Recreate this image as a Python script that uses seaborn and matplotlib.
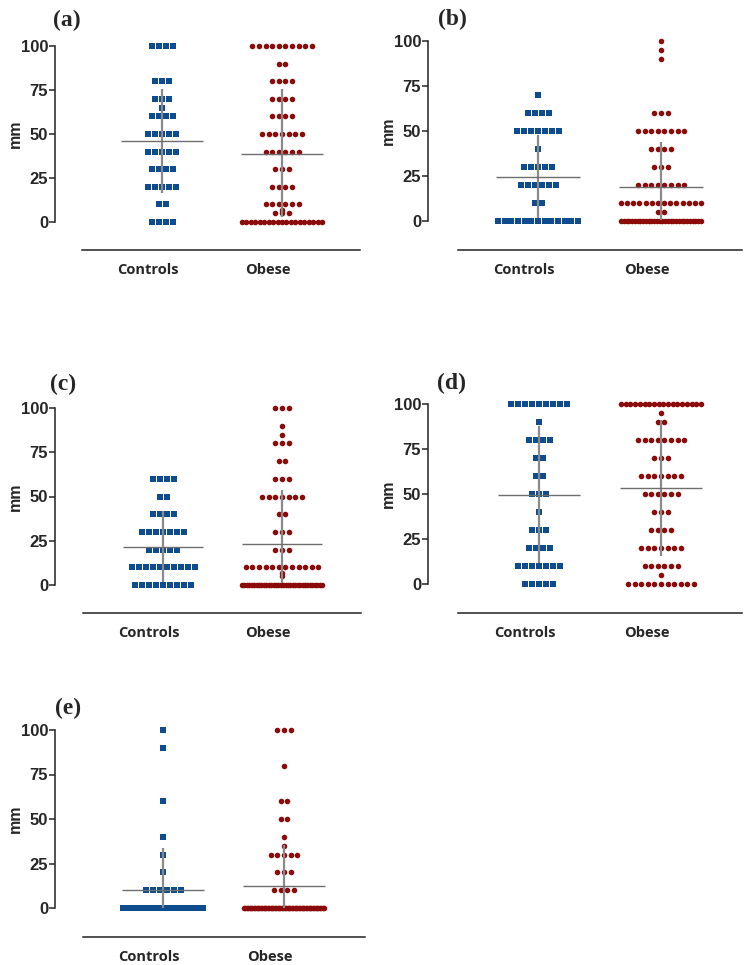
# dot plots (a)-(e): controls vs obese, mm scale, mean line + SD bar

import numpy as np
import pandas as pd
import matplotlib
matplotlib.use('Agg')
import matplotlib.pyplot as plt
import matplotlib.transforms as mtransforms
import seaborn as sns

groups = ['Controls', 'Obese']
ticks = [0, 25, 50, 75, 100]

# values, with the number of dots at every value
a_ctrl_vals = [100, 80, 70, 65, 60, 50, 40, 30, 20, 10, 0]
a_ctrl_counts = [4, 3, 3, 1, 4, 5, 5, 4, 5, 2, 4]
a_obese_vals = [100, 90, 80, 70, 60, 50, 40, 30, 20, 10, 7, 5, 0]
a_obese_counts = [10, 2, 4, 4, 4, 7, 6, 3, 4, 6, 1, 3, 19]
a_mean = [46.1, 38.9]
a_low = [16.4, 2.8]
a_high = [75.4, 75.4]

b_ctrl_vals = [70, 60, 50, 40, 30, 20, 10, 0]
b_ctrl_counts = [1, 4, 7, 1, 5, 6, 2, 13]
b_obese_vals = [100, 95, 90, 60, 50, 40, 30, 20, 10, 5, 0]
b_obese_counts = [1, 1, 1, 3, 8, 4, 3, 8, 14, 2, 30]
b_mean = [24.6, 19.1]
b_low = [1.5, 0.5]
b_high = [47.8, 43.7]

c_ctrl_vals = [60, 50, 40, 30, 20, 10, 0]
c_ctrl_counts = [4, 2, 4, 7, 5, 10, 9]
c_obese_vals = [100, 90, 85, 80, 70, 60, 50, 40, 30, 20, 10, 7, 5, 0]
c_obese_counts = [3, 1, 1, 3, 2, 3, 7, 2, 3, 3, 12, 1, 1, 34]
c_mean = [21.7, 22.9]
c_low = [1.9, 1.0]
c_high = [41.6, 53.9]

d_ctrl_vals = [100, 90, 80, 70, 60, 50, 40, 30, 20, 10, 0]
d_ctrl_counts = [9, 1, 4, 2, 2, 3, 1, 3, 4, 7, 5]
d_obese_vals = [100, 95, 90, 80, 70, 60, 50, 40, 30, 20, 10, 5, 0]
d_obese_counts = [18, 1, 2, 8, 3, 7, 6, 3, 4, 7, 6, 1, 11]
d_mean = [49.6, 53.1]
d_low = [11.7, 15.4]
d_high = [87.6, 91.3]

e_ctrl_vals = [100, 90, 60, 40, 30, 20, 10, 0]
e_ctrl_counts = [1, 1, 1, 1, 1, 1, 6, 28]
e_obese_vals = [100, 80, 60, 50, 40, 35, 30, 20, 10, 0]
e_obese_counts = [3, 1, 2, 2, 1, 1, 5, 3, 4, 58]
e_mean = [9.9, 12.4]
e_low = [0, 0]
e_high = [33.7, 35.6]

blue = '#0e4c8f'
red = '#8b0a0a'
W, H = 749, 965

sns.set_style('ticks')
plt.rcParams['font.family'] = ['Liberation Sans', 'DejaVu Sans']

fig = plt.figure(figsize=(W / 100, H / 100), dpi=100)


def rows(center, vals, counts, unit, step_px, half_px=40):
    # dots of one value side by side in a centred row, squeezed when too wide
    xs, ys = [], []
    for v, n in zip(vals, counts):
        step = min(step_px, 2 * half_px / (n - 1)) if n > 1 else 0
        off = (np.arange(n) - (n - 1) / 2) * step / unit
        xs.extend(center + off)
        ys.extend([v] * n)
    return pd.DataFrame({'x': xs, 'mm': ys})


def draw_panel(letter, cv, cc, ov, oc, mean, low, high, box):
    # box in pixels: y-axis x, y of 100, y of 0, x-axis y, x-axis start/end,
    # centre of Controls / Obese column, letter position
    yx, y100, y0, xsy, xs0, xs1, cx, ox, lx, ly = box
    top = y100 - 8
    ax = fig.add_axes([xs0 / W, 1 - xsy / H, (xs1 - xs0) / W, (xsy - top) / H])
    unit = ox - cx

    ctrl = rows(0, cv, cc, unit, 7.0)
    obese = rows(1, ov, oc, unit, 6.6)
    sns.scatterplot(data=ctrl, x='x', y='mm', marker='s', color=blue, s=14.5,
                    linewidth=0, ax=ax, legend=False, zorder=2)
    sns.scatterplot(data=obese, x='x', y='mm', marker='o', color=red, s=16,
                    linewidth=0, ax=ax, legend=False, zorder=2)

    # SD bars and mean lines
    ax.vlines([0, 1], low, high, color='#8a8a8a', lw=1.6, zorder=4)
    for i, m in enumerate(mean):
        ax.hlines(m, i - 0.34, i + 0.34, color='#6e6e6e', lw=1.0, zorder=4)

    ppu = (y0 - y100) / 100
    ylo, yhi = -(xsy - y0) / ppu, 100 + (y100 - top) / ppu
    ax.set_ylim(ylo, yhi)
    ax.set_xlim(-(cx - xs0) / unit, (xs1 - cx) / unit)

    ax.spines['top'].set_visible(False)
    ax.spines['right'].set_visible(False)
    ax.spines['left'].set_position(('outward', (xs0 - yx) * 0.72))
    ax.spines['left'].set_bounds(0, 100)
    for s in ['left', 'bottom']:
        ax.spines[s].set_linewidth(1.1)
        ax.spines[s].set_color('#222222')

    ax.set_yticks(ticks)
    ax.set_yticklabels([str(t) for t in ticks], fontweight='bold')
    ax.tick_params(axis='y', length=4, width=1.1, labelsize=12, pad=1)
    ax.set_xticks([])
    ax.set_xlabel('')
    ax.set_ylabel('mm', fontweight='bold', fontsize=11.5)
    ax.yaxis.set_label_coords((yx - 32 - xs0) / (xs1 - xs0), (50 - ylo) / (yhi - ylo))

    trans = mtransforms.blended_transform_factory(ax.transData, ax.transAxes) + \
        mtransforms.ScaledTranslation(-0.14, -0.20, fig.dpi_scale_trans)
    for i, g in enumerate(groups):
        ax.text(i, 0, g, transform=trans, ha='center', va='center',
                fontsize=10.5, fontweight='bold', family='Open Sans')

    fig.text(lx / W, 1 - ly / H, letter, family='Liberation Serif',
             fontweight='bold', fontsize=17, ha='center', va='center')


draw_panel('(a)', a_ctrl_vals, a_ctrl_counts, a_obese_vals, a_obese_counts,
           a_mean, a_low, a_high, (55, 46, 222, 250, 82, 360, 162, 282, 67, 20))
draw_panel('(b)', b_ctrl_vals, b_ctrl_counts, b_obese_vals, b_obese_counts,
           b_mean, b_low, b_high, (428, 41, 221, 250, 458, 742, 538, 661, 452, 19))
draw_panel('(c)', c_ctrl_vals, c_ctrl_counts, c_obese_vals, c_obese_counts,
           c_mean, c_low, c_high, (55, 408, 585, 613, 83, 361, 163, 282, 63, 384))
draw_panel('(d)', d_ctrl_vals, d_ctrl_counts, d_obese_vals, d_obese_counts,
           d_mean, d_low, d_high, (428, 404, 584, 613, 458, 742, 539, 661, 452, 383))
draw_panel('(e)', e_ctrl_vals, e_ctrl_counts, e_obese_vals, e_obese_counts,
           e_mean, e_low, e_high, (55, 730, 908, 937, 83, 365, 163, 284, 68, 708))

fig.savefig('out.png', dpi=100)
